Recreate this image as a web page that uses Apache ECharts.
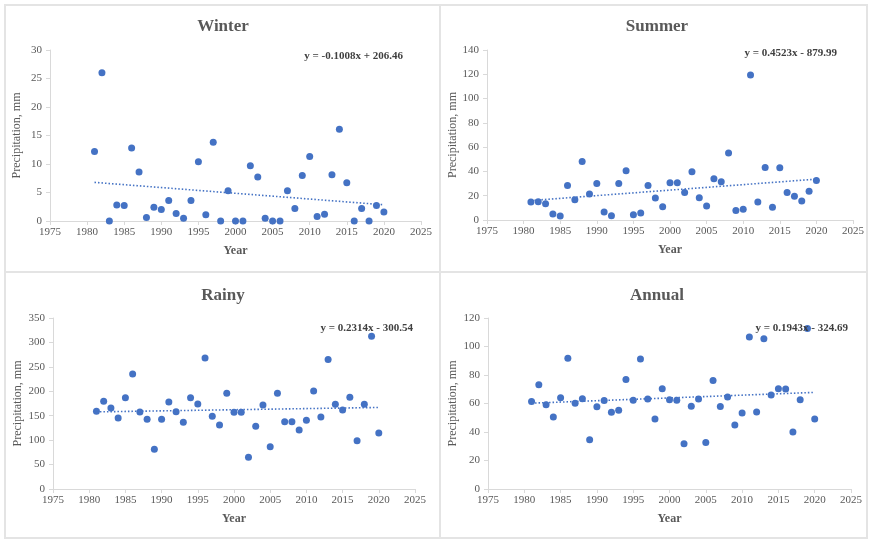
<!DOCTYPE html>
<html><head><meta charset="utf-8">
<script src="https://cdn.jsdelivr.net/npm/echarts@6/dist/echarts.min.js"></script>
<style>html,body{margin:0;padding:0;background:#fff}#c{width:869px;height:541px}</style>
</head><body><div id="c"></div>
<script>
const years = [1981,1982,1983,1984,1985,1986,1987,1988,1989,1990,1991,1992,1993,1994,1995,1996,1997,1998,1999,2000,2001,2002,2003,2004,2005,2006,2007,2008,2009,2010,2011,2012,2013,2014,2015,2016,2017,2018,2019,2020];
const winter = [12.2,26.0,0,2.8,2.7,12.8,8.6,0.6,2.4,2.0,3.6,1.3,0.5,3.6,10.4,1.1,13.8,0,5.3,0,0,9.7,7.7,0.5,0,0,5.3,2.2,8.0,11.3,0.8,1.2,8.1,16.1,6.7,0,2.2,0,2.7,1.6];
const summer = [14.8,15.1,13.4,4.9,3.3,28.5,16.7,48.2,21.4,30.1,6.6,3.6,30.1,40.5,4.4,5.8,28.5,18.1,11.0,30.7,30.7,22.7,39.7,18.4,11.5,34.0,31.5,55.1,7.9,8.8,119.5,14.8,43.3,10.4,43.0,22.7,19.5,15.6,23.6,32.6];
const rainy = [158.9,179.4,165.8,145.3,186.9,235.3,157.6,142.6,81.2,142.6,178.0,158.3,136.4,186.9,173.9,268.1,148.7,131.0,195.8,156.9,156.9,64.8,128.2,171.9,86.6,195.8,137.8,137.8,120.7,140.5,200.5,147.3,265.3,173.3,161.7,187.6,98.9,173.3,312.4,114.6];
const annual = [61.4,73.1,59.1,50.6,64.0,91.7,60.2,63.3,34.6,57.7,62.1,53.9,55.3,76.9,62.3,91.2,63.1,49.2,70.3,62.6,62.3,31.8,58.1,63.1,32.6,76.2,57.9,64.5,45.0,53.4,106.7,54.1,105.5,65.9,70.3,70.1,40.0,62.6,112.7,49.2];
const panelTitles = ['Winter','Summer','Rainy','Annual'];
const equations = ['y = -0.1008x + 206.46','y = 0.4523x - 879.99','y = 0.2314x - 300.54','y = 0.1943x - 324.69'];
const slopes = [-0.1008,0.4523,0.2314,0.1943];
const intercepts = [206.46,-879.99,-300.54,-324.69];
const yMax = [30,140,350,120];
const yStep = [5,20,50,20];
const xMin = 1975, xMax = 2025, xStep = 5;
const seriesValues = [winter,summer,rainy,annual];

const grids = [
  {left:50, top:50, width:371, height:171},
  {left:487, top:50, width:366, height:170},
  {left:53, top:318, width:362, height:171},
  {left:488, top:318, width:363, height:171}
];
const titlePos = [
  {x:218,y:13},{x:652,y:13},{x:218,y:282},{x:652,y:282}
];
const eqPos = [
  {x:398,y:46},{x:832,y:43},{x:408,y:318},{x:843,y:318}
];
const nameGaps = [27,28,29,29];
const serif = '"Liberation Serif","Times New Roman",serif';
const grey = '#595959';
const blue = '#4472C4';

const option = {
  backgroundColor:'#fff',
  animation:false,
  grid: grids,
  title: [],
  xAxis: [], yAxis: [], series: [],
  graphic: [
    {type:'rect', shape:{x:5,y:5,width:862,height:533}, style:{fill:'none',stroke:'#e4e4e4',lineWidth:2}},
    {type:'line', shape:{x1:440,y1:5,x2:440,y2:538}, style:{stroke:'#e4e4e4',lineWidth:2}},
    {type:'line', shape:{x1:5,y1:272,x2:867,y2:272}, style:{stroke:'#e4e4e4',lineWidth:2}}
  ]
};
for (let i=0;i<4;i++){
  option.title.push({text:panelTitles[i], left:titlePos[i].x, top:titlePos[i].y, textAlign:'center',
    textStyle:{fontFamily:serif,fontWeight:'bold',fontSize:17,color:grey}});
  option.title.push({text:equations[i], left:eqPos[i].x, top:eqPos[i].y, textAlign:'right',
    textStyle:{fontFamily:serif,fontWeight:'bold',fontSize:11,color:'#404040'}});
  option.xAxis.push({type:'value', gridIndex:i, min:xMin, max:xMax, interval:xStep,
    name:'Year', nameLocation:'middle', nameGap:24,
    nameTextStyle:{fontFamily:serif,fontWeight:'bold',fontSize:12,color:grey},
    axisLine:{show:true,onZero:false,lineStyle:{color:'#d9d9d9',width:1}},
    axisTick:{show:true,length:4,lineStyle:{color:'#d9d9d9'}},
    axisLabel:{fontFamily:serif,fontSize:11,color:grey,margin:6,formatter:v=>String(v)},
    splitLine:{show:false}});
  option.yAxis.push({type:'value', gridIndex:i, min:0, max:yMax[i], interval:yStep[i],
    name:'Precipitation, mm', nameLocation:'middle', nameGap:nameGaps[i], nameRotate:90,
    nameTextStyle:{fontFamily:serif,fontSize:12,color:grey},
    axisLine:{show:true,lineStyle:{color:'#d9d9d9',width:1}},
    axisTick:{show:true,length:4,lineStyle:{color:'#d9d9d9'}},
    axisLabel:{fontFamily:serif,fontSize:11,color:grey,margin:8,formatter:v=>String(v)},
    splitLine:{show:false}});
  const vals = seriesValues[i];
  option.series.push({type:'scatter', xAxisIndex:i, yAxisIndex:i, symbolSize:7,
    itemStyle:{color:blue,opacity:1}, data: years.map((y,k)=>[y,vals[k]]), z:3});
  const x0 = years[0], x1 = years[years.length-1];
  option.series.push({type:'line', xAxisIndex:i, yAxisIndex:i, symbol:'none', silent:true,
    lineStyle:{color:blue,width:1.6,type:[1.5,2]},
    data:[[x0,slopes[i]*x0+intercepts[i]],[x1,slopes[i]*x1+intercepts[i]]], z:1});
}
const chart = echarts.init(document.getElementById('c'));
chart.setOption(option);
</script></body></html>
